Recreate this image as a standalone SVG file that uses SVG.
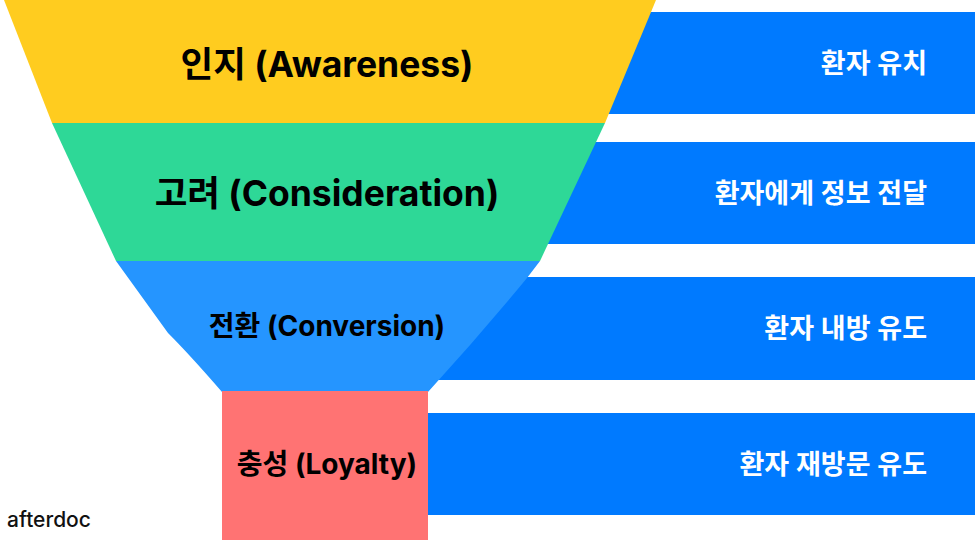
<svg xmlns="http://www.w3.org/2000/svg" width="975" height="540" viewBox="0 0 975 540">
<style>
.bar{fill:#007AFF}
.lbl{font-family:"Inter","Noto Sans CJK KR",sans-serif;font-weight:700;fill:#000;text-anchor:middle}
.rl{font-family:"Inter","Noto Sans CJK KR",sans-serif;font-weight:600;fill:#fff;text-anchor:end;font-size:27px}
</style>
<rect width="975" height="540" fill="#fff"/>
<g id="connectors"></g>
<g id="bar1"><rect class="bar" x="500" y="12" width="475" height="102"/><text class="rl" x="927" y="73">환자 유치</text></g>
<g id="bar2"><rect class="bar" x="500" y="142" width="475" height="102"/><text class="rl" x="927" y="203">환자에게 정보 전달</text></g>
<g id="bar3"><rect class="bar" x="420" y="277" width="555" height="103"/><text class="rl" x="927" y="338">환자 내방 유도</text></g>
<g id="bar4"><rect class="bar" x="420" y="413" width="555" height="102"/><text class="rl" x="927" y="474">환자 재방문 유도</text></g>
<g id="awareness"><polygon points="4,0 656,0 605,123 52,123" fill="#FFCC1F"/><text class="lbl" x="327" y="77" font-size="35.5">인지 (Awareness)</text></g>
<g id="consideration"><polygon points="52,123 605,123 540,261 116,261" fill="#2ED897"/><text class="lbl" x="327" y="206" font-size="35.5">고려 (Consideration)</text></g>
<g id="conversion"><path d="M116,261 L540,261 L527,278 Q480,335 428,392 L222,392 Q190,355 168,333 Z" fill="#2595FF"/><text class="lbl" x="327" y="336" font-size="28">전환 (Conversion)</text></g>
<g id="loyalty"><rect x="222" y="391" width="206" height="149" fill="#FF7373"/><text class="lbl" x="327" y="474" font-size="28">충성 (Loyalty)</text></g>
<text x="7" y="527" font-family="Inter,'Noto Sans CJK KR',sans-serif" font-weight="500" font-size="21" fill="#111">afterdoc</text>
</svg>
